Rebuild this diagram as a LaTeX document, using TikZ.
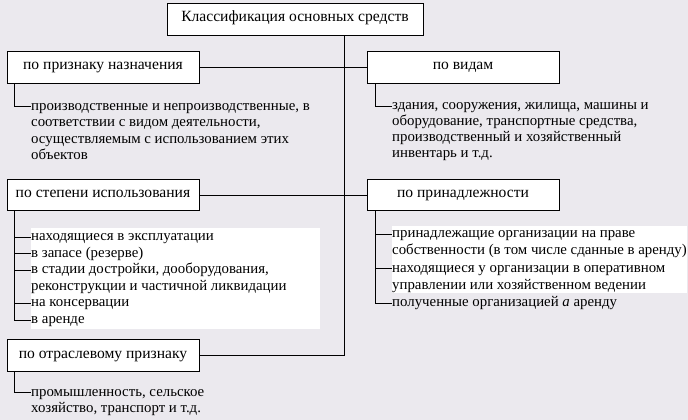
\documentclass[tikz,border=0pt]{standalone}
\usepackage{fontspec}
\setmainfont{Liberation Serif}
\newcommand\diagfont{\fontsize{14.85}{16.5}\selectfont}
\newcommand\boxfont{\fontsize{15.6}{17}\selectfont}
\definecolor{bgc}{HTML}{EBE9EE}
\begin{document}
\begin{tikzpicture}[x=1pt,y=-1pt,
  box/.style={draw, fill=white, line width=0.8pt, minimum width=192pt, minimum height=31.5pt, inner sep=0pt, text height=10pt, text depth=5pt, font=\boxfont},
  itm/.style={anchor=west, inner sep=0pt, text height=10pt, text depth=3pt, font=\diagfont},
  ln/.style={line width=0.8pt}]
\fill[bgc] (0,0) rectangle (688,420);
\useasboundingbox (0,0) rectangle (688,420);
% white backdrops
\fill[white] (31,228) rectangle (320,329);
\fill[white] (392,226) rectangle (687,293);
% boxes
\node[box, minimum width=256pt, minimum height=32pt] (root) at (295,19) {Классификация основных средств};
\node[box] (b1) at (103,67.5) {по признаку назначения};
\node[box] (b2) at (463,67.5) {по видам};
\node[box] (b3) at (103,195) {по степени использования};
\node[box] (b4) at (463,195) {по принадлежности};
\node[box] (b5) at (103,355.5) {по отраслевому признаку};
% trunk
\coordinate (tb) at (344,355.5);
\draw[ln] (root.south -| tb) -- (tb) -- (b5.east);
\draw[ln] (b1.east) -- (b2.west);
\draw[ln] (b3.east) -- (b4.west);
% texts
\node[itm] (a1) at (31,106.7) {производственные и непроизводственные, в};
\node[itm] (a2) at (31,123.2) {соответствии с видом деятельности,};
\node[itm] (a3) at (31,139.7) {осуществляемым с использованием этих};
\node[itm] (a4) at (31,156.2) {объектов};
\node[itm] (p1) at (392,106) {здания, сооружения, жилища, машины и};
\node[itm] (p2) at (392,122) {оборудование, транспортные средства,};
\node[itm] (p3) at (392,138) {производственный и хозяйственный};
\node[itm] (p4) at (392,154) {инвентарь и т.д.};
\node[itm] (c1) at (31,237) {находящиеся в эксплуатации};
\node[itm] (c2) at (31,253.5) {в запасе (резерве)};
\node[itm] (c3) at (31,270) {в стадии достройки, дооборудования,};
\node[itm] (c4) at (31,286.5) {реконструкции и частичной ликвидации};
\node[itm] (c5) at (31,303) {на консервации};
\node[itm] (c6) at (31,320) {в аренде};
\node[itm] (d1) at (392,234) {принадлежащие организации на праве};
\node[itm] (d2) at (392,251.3) {собственности (в том числе сданные в аренду)};
\node[itm] (d3) at (392,268.6) {находящиеся у организации в оперативном};
\node[itm] (d4) at (392,285.9) {управлении или хозяйственном ведении};
\node[itm] (d5) at (392,303.2) {полученные организацией \textit{а} аренду};
\node[itm] (e1) at (31,392.7) {промышленность, сельское};
\node[itm] (e2) at (31,409.3) {хозяйство, транспорт и т.д.};
% branches
\draw[ln] ([xshift=8pt]b1.south west) |- (a1.west);
\draw[ln] ([xshift=9pt]b2.south west) |- (p1.west);
\coordinate (lc) at ([xshift=8pt]b3.south west);
\draw[ln] (lc) |- (c6.west);
\foreach \n in {c1,c2,c3,c5} \draw[ln] (\n.west -| lc) -- (\n.west);
\coordinate (ld) at ([xshift=9pt]b4.south west);
\draw[ln] (ld) |- (d5.west);
\foreach \n in {d1,d3} \draw[ln] (\n.west -| ld) -- (\n.west);
\draw[ln] ([xshift=8pt]b5.south west) |- (e1.west);
\end{tikzpicture}
\end{document}
